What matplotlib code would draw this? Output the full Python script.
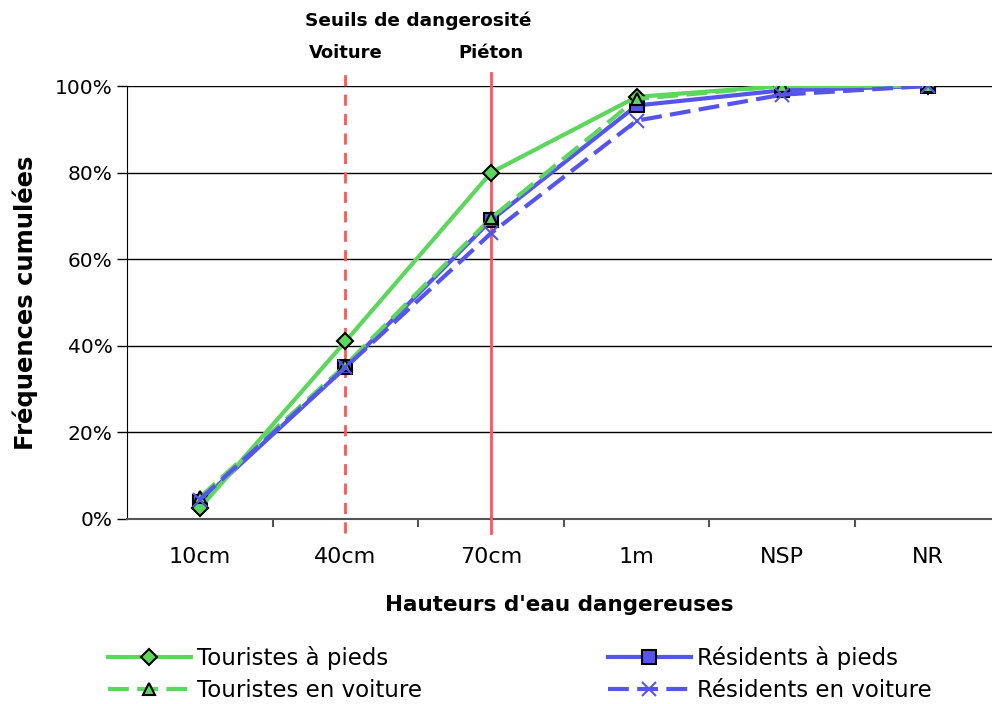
import matplotlib.pyplot as plt
from matplotlib.ticker import FixedLocator, PercentFormatter

categories = ["10cm", "40cm", "70cm", "1m", "NSP", "NR"]
touristes_pieds = [2.5, 41, 80, 97.5, 100, 100]
touristes_voiture = [5, 35.5, 69.5, 97, 100, 100]
residents_pieds = [4, 35, 69, 95.5, 99, 100]
residents_voiture = [4.5, 35, 66, 92, 98, 100]

green = "#5cd65c"
blue = "#5555ee"
red = "#ff5555"

plt.rcParams["font.family"] = ["DejaVu Sans"]

fig = plt.figure(figsize=(9.92, 7.04), dpi=100)
ax = fig.add_axes([127 / 992, 1 - 519 / 704, 865 / 992, 433 / 704])

x = list(range(len(categories)))

l_tp, = ax.plot(x, touristes_pieds, color=green, lw=3, marker="D", ms=8,
                mfc=green, mec="black", mew=1.5, label="Touristes à pieds", zorder=5)
l_rp, = ax.plot(x, residents_pieds, color=blue, lw=3, marker="s", ms=10,
                mfc=blue, mec="black", mew=1.5, label="Résidents à pieds", zorder=4)
l_tv, = ax.plot(x, touristes_voiture, color=green, lw=3, ls=(0, (5, 2)), marker="^", ms=9,
                mfc=green, mec="black", mew=1.5, label="Touristes en voiture", zorder=6)
l_rv, = ax.plot(x, residents_voiture, color=blue, lw=3, ls=(0, (5, 2)), marker="x", ms=10,
                mec=blue, mew=1.5, label="Résidents en voiture", zorder=7)

# seuils de dangerosité
ax.plot([1, 1], [-3.2, 103], color=red, lw=2, ls=(0, (4, 3)), clip_on=False, zorder=3)
ax.plot([2, 2], [-3.2, 103], color=red, lw=2, clip_on=False, zorder=3)
ax.text(1.5, 115.0, "Seuils de dangerosité", ha="center", va="center",
        fontsize=13.3, fontweight="bold")
ax.text(1, 107.7, "Voiture", ha="center", va="center", fontsize=13, fontweight="bold")
ax.text(2, 107.7, "Piéton", ha="center", va="center", fontsize=13, fontweight="bold")

ax.set_xlim(-0.5, 5.44)
ax.set_ylim(0, 100)
ax.set_xticks(x)
ax.set_xticklabels(categories, fontsize=16)
ax.tick_params(axis="x", length=0, pad=20)
ax.xaxis.set_minor_locator(FixedLocator([0.5, 1.5, 2.5, 3.5, 4.5]))
ax.tick_params(axis="x", which="minor", length=6, width=1.5, color="#555555")

ax.set_yticks([0, 20, 40, 60, 80, 100])
ax.yaxis.set_major_formatter(PercentFormatter(decimals=0))
ax.tick_params(axis="y", labelsize=14.5, length=7, width=1)
ax.grid(axis="y", color="black", lw=1)

for s in ["top", "right"]:
    ax.spines[s].set_visible(False)
ax.spines["left"].set_color("black")
ax.spines["bottom"].set_color("#555555")
ax.spines["bottom"].set_linewidth(1.5)

ax.set_xlabel("Hauteurs d'eau dangereuses", fontsize=15.5, fontweight="bold", labelpad=20)
ax.set_ylabel("Fréquences cumulées", fontsize=17.5, fontweight="bold", labelpad=12)

leg_kw = dict(loc="upper left", frameon=False, fontsize=16.5, handlelength=3.6,
              labelspacing=0.38, handletextpad=0.3, borderaxespad=0, borderpad=0)
leg1 = fig.legend([l_tp, l_tv], ["Touristes à pieds", "Touristes en voiture"],
                  bbox_to_anchor=(108 / 992, 1 - 646 / 704), **leg_kw)
leg2 = fig.legend([l_rp, l_rv], ["Résidents à pieds", "Résidents en voiture"],
                  bbox_to_anchor=(608 / 992, 1 - 646 / 704), **leg_kw)

fig.savefig("out.png", dpi=100)
